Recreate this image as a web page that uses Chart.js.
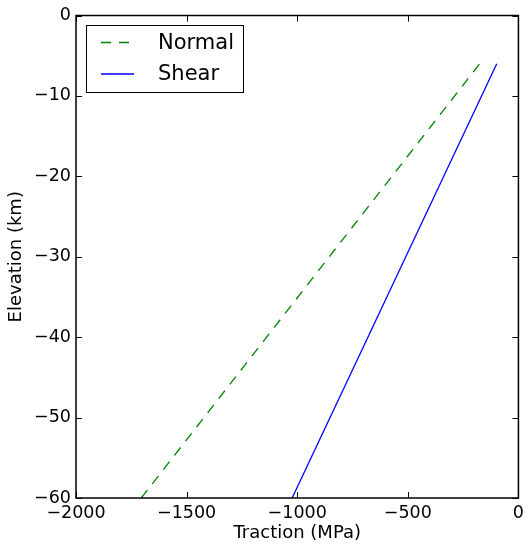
<!DOCTYPE html>
<html>
<head>
<meta charset="utf-8">
<script src="https://cdn.jsdelivr.net/npm/chart.js@4/dist/chart.umd.min.js"></script>
<style>
  html, body { margin: 0; padding: 0; background: #fff; }
  #wrap { width: 529px; height: 544px; position: relative; }
</style>
</head>
<body>
<div id="wrap"><canvas id="c"></canvas></div>
<script>
// 断面の応力：深さごとの法線・せん断トラクション
const seriesNames = ['Normal', 'Shear'];
const elevation = [-60, -6];          // km
const normalTraction = [-1705, -175]; // MPa
const shearTraction = [-1023, -98];   // MPa
const xTicks = [-2000, -1500, -1000, -500, 0];
const yTicks = [-60, -50, -40, -30, -20, -10, 0];

const FONT = 'DejaVu Sans';
const minus = v => (v < 0 ? '\u2212' + Math.abs(v) : String(v));
const pts = xs => xs.map((x, i) => ({ x, y: elevation[i] }));

// 軸の枠と内向きの目盛り（上下左右）
const frame = {
  id: 'frame',
  afterDraw(chart) {
    const { ctx, chartArea: a, scales: { x, y } } = chart;
    ctx.save();
    ctx.strokeStyle = '#000';
    ctx.lineWidth = 1;
    const tl = 6;
    ctx.beginPath();
    xTicks.forEach(v => {
      const px = Math.round(x.getPixelForValue(v)) + 0.5;
      ctx.moveTo(px, a.bottom); ctx.lineTo(px, a.bottom - tl);
      ctx.moveTo(px, a.top); ctx.lineTo(px, a.top + tl);
    });
    yTicks.forEach(v => {
      const py = Math.round(y.getPixelForValue(v)) + 0.5;
      ctx.moveTo(a.left, py); ctx.lineTo(a.left + tl, py);
      ctx.moveTo(a.right, py); ctx.lineTo(a.right - tl, py);
    });
    ctx.stroke();
    ctx.lineWidth = 1.5;
    ctx.strokeRect(a.left, a.top, a.right - a.left, a.bottom - a.top);
    ctx.restore();
  }
};

// 凡例（左上、枠つき）
const boxLegend = {
  id: 'boxLegend',
  afterDraw(chart) {
    const { ctx } = chart;
    ctx.save();
    ctx.fillStyle = '#fff';
    ctx.fillRect(86, 25, 157, 67);
    ctx.strokeStyle = '#000';
    ctx.lineWidth = 1;
    ctx.strokeRect(86.5, 25.5, 157, 67);
    chart.data.datasets.forEach((ds, i) => {
      const yy = 42.5 + i * 31.5;
      ctx.strokeStyle = ds.borderColor;
      ctx.lineWidth = ds.borderWidth;
      ctx.setLineDash(ds.borderDash || []);
      ctx.beginPath(); ctx.moveTo(101, yy); ctx.lineTo(134, yy); ctx.stroke();
      ctx.setLineDash([]);
      ctx.fillStyle = '#000';
      ctx.font = `21px "${FONT}"`;
      ctx.textBaseline = 'middle';
      ctx.fillText(ds.label, 158, yy + 1);
    });
    ctx.restore();
  }
};

new Chart(document.getElementById('c'), {
  type: 'scatter',
  data: {
    datasets: [
      { label: seriesNames[0], data: pts(normalTraction), showLine: true, borderColor: '#008000', borderWidth: 1.3, borderDash: [10, 8], pointRadius: 0 },
      { label: seriesNames[1], data: pts(shearTraction), showLine: true, borderColor: '#0000ff', borderWidth: 1.3, pointRadius: 0 },
    ],
  },
  options: {
    responsive: true, maintainAspectRatio: false, animation: false,
    layout: { padding: { top: 14, right: 9, left: 0, bottom: 0 } },
    plugins: { legend: { display: false }, tooltip: { enabled: false } },
    scales: {
      x: {
        type: 'linear', min: -2000, max: 0,
        afterBuildTicks: s => { s.ticks = xTicks.map(v => ({ value: v })); },
        afterFit: s => { s.height = 46; },
        grid: { display: false, drawTicks: false },
        border: { display: false },
        ticks: { color: '#000', font: { family: FONT, size: 17.5 }, padding: 5, maxRotation: 0, autoSkip: false, callback: minus },
        title: { display: true, text: 'Traction (MPa)', color: '#000', font: { family: FONT, size: 18 }, padding: { top: 0, bottom: 0 } },
      },
      y: {
        type: 'linear', min: -60, max: 0,
        afterBuildTicks: s => { s.ticks = yTicks.map(v => ({ value: v })); },
        afterFit: s => { s.width = 76; },
        grid: { display: false, drawTicks: false },
        border: { display: false },
        ticks: { color: '#000', font: { family: FONT, size: 17.5 }, padding: 5, autoSkip: false, callback: minus },
        title: { display: true, text: 'Elevation (km)', color: '#000', font: { family: FONT, size: 18 }, padding: { top: 6, bottom: 0 } },
      },
    },
  },
  plugins: [frame, boxLegend],
});
</script>
</body>
</html>
